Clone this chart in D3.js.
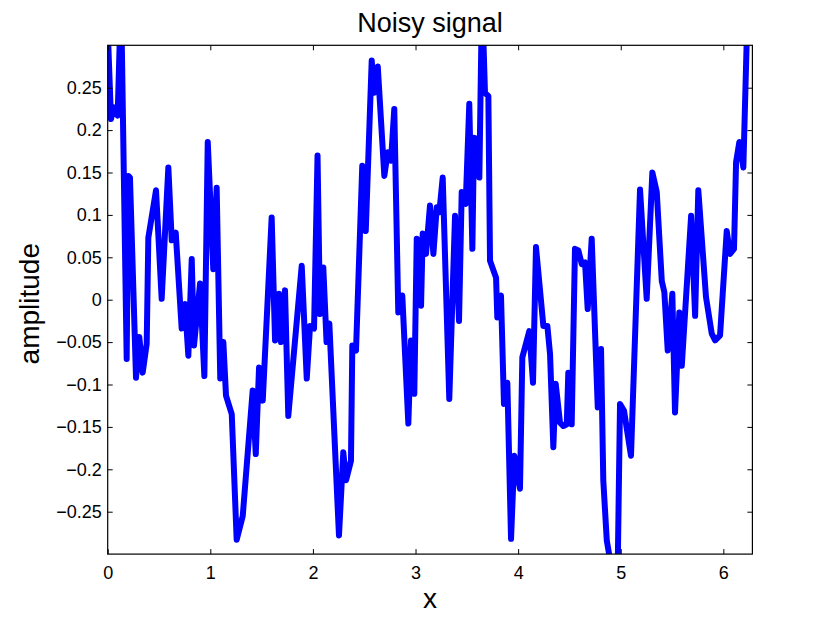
<!DOCTYPE html>
<html>
<head>
<meta charset="utf-8">
<script src="https://cdn.jsdelivr.net/npm/d3@7"></script>
<style>
  body { margin: 0; background: #fff; }
  svg { display: block; font-family: "Liberation Sans", Arial, Helvetica, sans-serif; }
  .axis path { display: none; }
  .axis line { stroke: #000; }
  .axis text { font-size: 18px; fill: #000; }
</style>
</head>
<body>
<div id="graph"></div>
<script>
// x positions of the samples (radians)
var xs = [
  0, 0.032, 0.055, 0.097, 0.130, 0.185, 0.201, 0.217, 0.276, 0.308,
  0.341, 0.380, 0.396, 0.471, 0.526, 0.591, 0.624, 0.663, 0.721, 0.753,
  0.786, 0.819, 0.841, 0.900, 0.942, 0.975, 1.029, 1.062, 1.097, 1.127,
  1.153, 1.209, 1.257, 1.316, 1.413, 1.443, 1.475, 1.511, 1.598, 1.631,
  1.670, 1.689, 1.728, 1.760, 1.891, 1.940, 1.972, 2.011, 2.045, 2.069,
  2.101, 2.133, 2.160, 2.254, 2.296, 2.323, 2.371, 2.384, 2.420, 2.481,
  2.515, 2.573, 2.598, 2.632, 2.696, 2.729, 2.761, 2.793, 2.832, 2.871,
  2.930, 2.956, 2.988, 3.012, 3.054, 3.070, 3.102, 3.141, 3.174, 3.207,
  3.232, 3.265, 3.329, 3.385, 3.424, 3.450, 3.489, 3.524, 3.554, 3.570,
  3.590, 3.622, 3.648, 3.677, 3.710, 3.726, 3.785, 3.797, 3.833, 3.862,
  3.895, 3.931, 3.963, 4.018, 4.041, 4.109, 4.145, 4.174, 4.246, 4.285,
  4.311, 4.343, 4.366, 4.408, 4.441, 4.474, 4.489, 4.522, 4.554, 4.587,
  4.620, 4.652, 4.678, 4.717, 4.776, 4.808, 4.830, 4.864, 4.915, 4.969,
  4.993, 5.032, 5.100, 5.188, 5.253, 5.308, 5.351, 5.400, 5.425, 5.458,
  5.503, 5.529, 5.571, 5.595, 5.686, 5.725, 5.756, 5.831, 5.887, 5.920,
  5.968, 6.033, 6.065, 6.104, 6.124, 6.156, 6.195, 6.231, 6.283
];

// amplitude of the noisy signal
var ys = [
  0.32, 0.213, 0.227, 0.217, 0.36, -0.070, 0.146, 0.144, -0.092, -0.044,
  -0.086, -0.052, 0.073, 0.129, 0.001, 0.156, 0.070, 0.079, -0.034, -0.005,
  -0.066, 0.048, -0.054, 0.019, -0.090, 0.186, 0.036, 0.132, -0.093, -0.050,
  -0.113, -0.135, -0.283, -0.255, -0.107, -0.182, -0.080, -0.119, 0.097, -0.048,
  0.007, -0.050, 0.011, -0.137, 0.040, -0.093, -0.031, -0.034, 0.170, -0.017,
  0.038, -0.050, -0.028, -0.278, -0.180, -0.213, -0.190, -0.054, -0.060, 0.158,
  0.081, 0.282, 0.244, 0.275, 0.146, 0.174, 0.164, 0.225, -0.015, 0.005,
  -0.146, -0.048, -0.111, 0.072, -0.007, 0.078, 0.054, 0.111, 0.054, 0.109,
  0.103, 0.144, -0.117, 0.099, -0.025, 0.127, 0.113, 0.231, 0.060, 0.191,
  0.190, 0.144, 0.36, 0.244, 0.240, 0.046, 0.026, -0.021, 0.005, -0.123,
  -0.098, -0.282, -0.184, -0.223, -0.068, -0.037, -0.098, 0.062, -0.031, -0.031,
  -0.064, -0.174, -0.099, -0.145, -0.149, -0.147, -0.086, -0.147, 0.060, 0.058,
  0.042, 0.044, -0.011, 0.072, -0.127, -0.058, -0.213, -0.284, -0.32, -0.33,
  -0.123, -0.131, -0.184, 0.130, 0.001, 0.150, 0.127, 0.022, 0.009, -0.060,
  0.007, -0.133, -0.015, -0.078, 0.099, -0.019, 0.129, 0.003, -0.040, -0.048,
  -0.042, 0.081, 0.054, 0.060, 0.162, 0.186, 0.156, 0.32, 0.34
];

// tick values
var xTicks = [0, 1, 2, 3, 4, 5, 6];
var yTicks = [-0.25, -0.2, -0.15, -0.1, -0.05, 0, 0.05, 0.1, 0.15, 0.2, 0.25];

var W = 830, H = 623;
var margin = {top: 45.3, right: 77.6, bottom: 68.9, left: 107.7},
    width = W - margin.left - margin.right,
    height = H - margin.top - margin.bottom;

var data = xs.map(function(d, i) { return { x: d, y: ys[i] }; });

// scales
var x = d3.scaleLinear().domain([0, 2 * Math.PI]).range([0, width]),
    y = d3.scaleLinear().domain([-0.3, 0.3]).range([height, 0]);

var fmt = function(d) { return String(+d.toFixed(2)).replace("-", "\u2212"); };

var svg = d3.select("#graph").append("svg")
    .attr("width", W)
    .attr("height", H);

var g = svg.append("g")
    .attr("transform", "translate(" + margin.left + "," + margin.top + ")");

// clip the line to the axes box
g.append("clipPath")
    .attr("id", "clip")
  .append("rect")
    .attr("width", width)
    .attr("height", height);

var valueline = d3.line()
    .x(function(d) { return x(d.x); })
    .y(function(d) { return y(d.y); });

g.append("path")
    .datum(data)
    .attr("clip-path", "url(#clip)")
    .attr("fill", "none")
    .attr("stroke", "#0000ff")
    .attr("stroke-width", 6)
    .attr("stroke-linejoin", "round")
    .attr("stroke-linecap", "round")
    .attr("d", valueline);

// axes, ticks pointing inward on all four sides
g.append("g")
    .attr("class", "axis")
    .attr("transform", "translate(0," + height + ")")
    .call(d3.axisBottom(x).tickValues(xTicks).tickSizeInner(-5).tickSizeOuter(0).tickPadding(12).tickFormat(fmt));

g.append("g")
    .attr("class", "axis")
    .call(d3.axisTop(x).tickValues(xTicks).tickSizeInner(-5).tickSizeOuter(0).tickFormat(""));

g.append("g")
    .attr("class", "axis")
    .call(d3.axisLeft(y).tickValues(yTicks).tickSizeInner(-5).tickSizeOuter(0).tickPadding(6).tickFormat(fmt));

g.append("g")
    .attr("class", "axis")
    .attr("transform", "translate(" + width + ",0)")
    .call(d3.axisRight(y).tickValues(yTicks).tickSizeInner(-5).tickSizeOuter(0).tickFormat(""));

// box
g.append("rect")
    .attr("width", width)
    .attr("height", height)
    .attr("fill", "none")
    .attr("stroke", "#000")
    .attr("stroke-width", 1.2);

// title and labels
svg.append("text")
    .attr("x", margin.left + width / 2)
    .attr("y", 32)
    .attr("text-anchor", "middle")
    .style("font-size", "27px")
    .text("Noisy signal");

svg.append("text")
    .attr("x", margin.left + width / 2)
    .attr("y", 608)
    .attr("text-anchor", "middle")
    .style("font-size", "28px")
    .text("x");

svg.append("text")
    .attr("transform", "translate(39," + (margin.top + height / 2 + 4) + ") rotate(-90)")
    .attr("text-anchor", "middle")
    .style("font-size", "28px")
    .text("amplitude");
</script>
</body>
</html>
